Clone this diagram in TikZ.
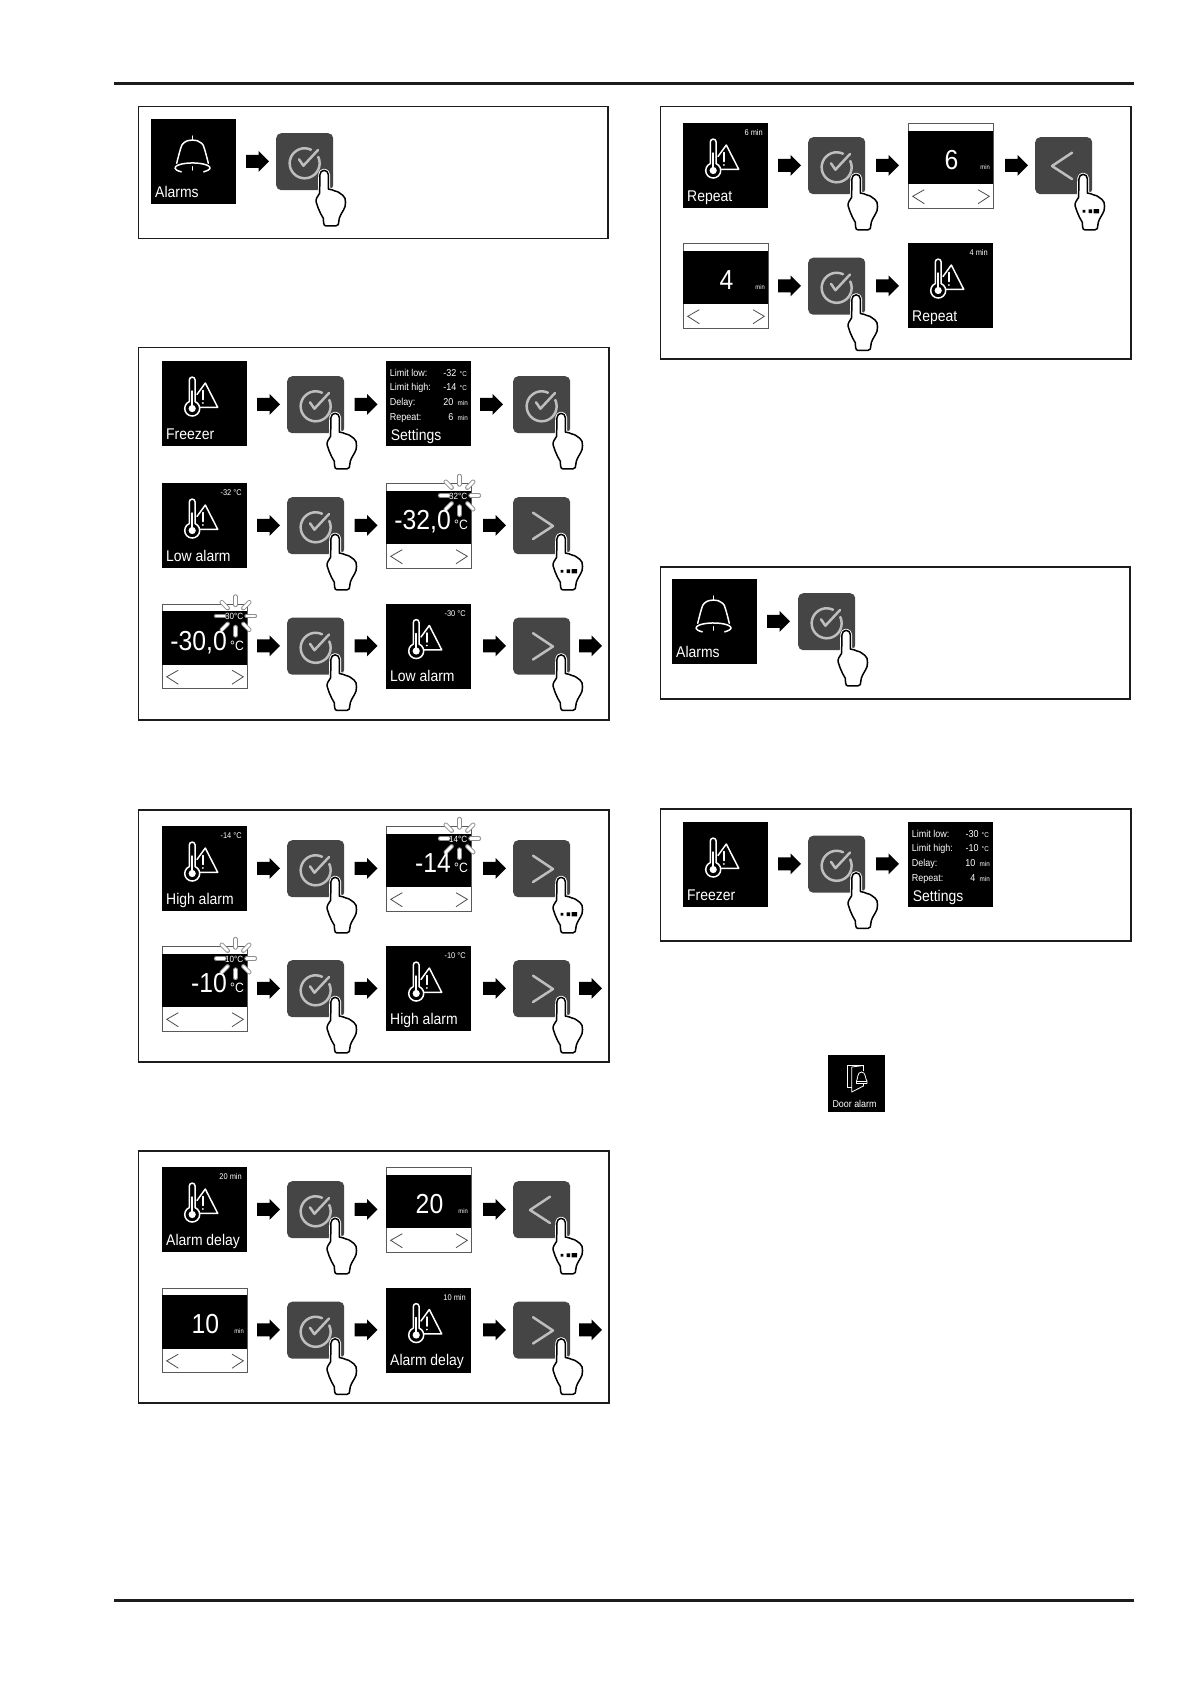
\documentclass[tikz,border=0pt]{standalone}
\usepackage{fontspec}
\setmainfont[FakeStretch=0.9]{Liberation Sans}
\usetikzlibrary{calc}
\definecolor{btngrey}{HTML}{454545}
\definecolor{chev}{HTML}{BEBEBE}
\definecolor{framec}{HTML}{1C1C1C}
\tikzset{
  scrbox/.style={fill=black,minimum size=85pt,inner sep=0pt,anchor=north west,draw=none},
  btnbox/.style={fill=btngrey,rounded corners=5pt,minimum size=57pt,inner sep=0pt,anchor=north west,draw=none},
  framebox/.style={draw=framec,line width=1.8pt,fill=none},
  rulel/.style={draw=framec,line width=3pt},
  icon/.style={draw=white,line width=1.5pt,line cap=round,line join=round},
  thinicon/.style={draw=white,line width=.8pt,line join=round},
  glyph/.style={draw=chev,line width=2.5pt,line cap=round,line join=round},
  hairl/.style={draw=black!70,line width=.8pt},
  lab/.style={text=white,inner sep=0pt,anchor=base west,font=\fontsize{15.5}{16}\selectfont},
  small/.style={text=white,inner sep=0pt,anchor=base east,font=\fontsize{8.3}{9}\selectfont},
  setl/.style={text=white,inner sep=0pt,anchor=base west,font=\fontsize{10}{10}\selectfont},
  setv/.style={text=white,inner sep=0pt,anchor=base east,font=\fontsize{10}{10}\selectfont},
  setu/.style={text=white,inner sep=0pt,anchor=base east,font=\fontsize{7}{7}\selectfont},
  bigv/.style={text=white,inner sep=0pt,font=\fontsize{27.5}{28}\selectfont},
}
% block arrow: x, y centre
\newcommand{\blockarrow}[2]{\fill[black] (#1,#2-7.2)--(#1+12.5,#2-7.2)--(#1+12.5,#2-11.2)--(#1+23,#2-.7)--(#1+12.5,#2+9.8)--(#1+12.5,#2+5.8)--(#1,#2+5.8)--cycle;}
% hand relative to button
\newcommand{\handpath}{(44,41.5) arc[start angle=180,end angle=0,radius=4.15pt] -- (52.3,56) .. controls (55,56.5) and (57,57) .. (59,58) .. controls (61,58.3) and (62.5,59) .. (64,60.3) .. controls (66,61.5) and (68,63) .. (69,65.3) .. controls (69.7,68) and (69.7,71) .. (69,73.7) .. controls (67.5,78) and (64.5,81) .. (63.3,85.3) -- (62.3,91.5) .. controls (62,92.7) and (61,92.9) .. (60,92.9) -- (50,92.9) .. controls (48.5,92.9) and (48,92) .. (47.6,90) -- (47.3,85.3) .. controls (45.5,82) and (43.5,79) .. (42.3,75.3) -- (40,68.5) .. controls (39.7,66.5) and (41.5,63) .. (43.6,60.3) -- cycle}
\newcommand{\hand}{\draw[white,fill=white,line width=3.4pt,line join=round] \handpath;\draw[black,line width=1.5pt,line join=round] \handpath;}
\newcommand{\movedots}{\fill[black] (47.5,72.8) rectangle (50.3,75.6) (53.5,72.4) rectangle (57,76) (58.5,72) rectangle (64,76.3);}
% buttons: name x y
\newcommand{\btnbase}[3]{\node[btnbox] (#1) at (#2,#3) {};}
\newcommand{\btncheck}[3]{\btnbase{#1}{#2}{#3}\begin{scope}[shift={(#2,#3)}]
 \draw[glyph] (35,16.7) arc[start angle=65,end angle=385,radius=15pt];
 \draw[glyph] (23,26.3)--(27.4,32.7)--(42,17);
 \hand\end{scope}}
\newcommand{\btnright}[3]{\btnbase{#1}{#2}{#3}\begin{scope}[shift={(#2,#3)}]
 \draw[glyph] (20,15.7)--(40,29)--(20,42);
 \hand\end{scope}}
\newcommand{\btnrightm}[3]{\btnbase{#1}{#2}{#3}\begin{scope}[shift={(#2,#3)}]
 \draw[glyph] (20,15.7)--(40,29)--(20,42);
 \hand\movedots\end{scope}}
\newcommand{\btnleftm}[3]{\btnbase{#1}{#2}{#3}\begin{scope}[shift={(#2,#3)}]
 \draw[glyph] (37,15.7)--(17,29)--(37,42);
 \hand\movedots\end{scope}}
% icons
\newcommand{\thermo}{%
 \draw[icon] (33.1,40.6) arc[start angle=67.3,end angle=-247.3,radius=7.5pt] -- (27.3,19) arc[start angle=180,end angle=0,radius=2.9pt] -- cycle;
 \fill[white] (30.2,47.5) circle (3.6pt);
 \draw[icon] (30.2,46)--(30.2,30);
 \draw[icon] (35,33.5)--(43.3,22)--(55.7,46.3)--(38.2,46.3);
 \draw[icon] (40.8,29.5)--(40.8,38.5);
 \fill[white] (40.8,42) circle (1pt);}
\newcommand{\bellicon}{%
 \draw[icon] (41.4,17)--(41.4,21);
 \draw[icon] (25.7,44.3) .. controls (27,39) and (28.5,33) .. (29.7,29.3) .. controls (30.5,26.5) and (31,25.5) .. (32.3,24.3) .. controls (35,21.8) and (38,21) .. (41.4,21) .. controls (45,21) and (48,21.8) .. (50.7,24.3) .. controls (52,25.5) and (52.5,26.5) .. (53.3,29.3) .. controls (54.5,33) and (56,39) .. (57.3,44.3);
 \draw[icon] (30.25,52.8) arc[start angle=230,end angle=-50,x radius=17.5pt,y radius=5pt];
 \draw[icon] (41.4,47.7)--(41.4,51);}
% screens: name x y label topright
\newcommand{\thscreen}[5]{\node[scrbox] (#1) at (#2,#3) {};\begin{scope}[shift={(#2,#3)}]\thermo
 \node[lab] (#1-l) at (4,78) {#4};\node[small] (#1-t) at (80,12.5) {#5};\end{scope}}
\newcommand{\bellscreen}[4]{\node[scrbox] (#1) at (#2,#3) {};\begin{scope}[shift={(#2,#3)}]\bellicon
 \node[lab] (#1-l) at (4,78) {#4};\end{scope}}
% settings screen: name x y low high delay repeat
\newcommand{\setscreen}[7]{\node[scrbox] (#1) at (#2,#3) {};\begin{scope}[shift={(#2,#3)}]
 \node[setl] (#1-a) at (3.7,15) {Limit low:};
 \node[setl] (#1-b) at (3.7,29.7) {Limit high:};
 \node[setl] (#1-c) at (3.7,44.7) {Delay:};
 \node[setl] (#1-d) at (3.7,59) {Repeat:};
 \node[setv] (#1-e) at (70.7,15) {#4};\node[setu] (#1-f) at (81,15) {°C};
 \node[setv] (#1-g) at (70.7,29.7) {#5};\node[setu] (#1-h) at (81,29.7) {°C};
 \node[setv] (#1-i) at (67.5,44.7) {#6};\node[setu] (#1-j) at (82,44.7) {min};
 \node[setv] (#1-k) at (67.5,59) {#7};\node[setu] (#1-m) at (82,59) {min};
 \node[lab] (#1-l) at (4.7,79) {Settings};\end{scope}}
% value screen frame
\newcommand{\valframe}[3]{\node[draw=black!65,line width=.8pt,fill=white,minimum size=84.2pt,inner sep=0pt,anchor=north west] (#1) at (#2+.4,#3+.4) {};\begin{scope}[shift={(#2,#3)}]
 \fill[black] (0,7.6) rectangle (85,61);
 \draw[hairl] (16.3,66.7)--(4.7,73.3)--(16.3,80.7);
 \draw[hairl] (70,66.7)--(81.3,73.3)--(70,80.7);\end{scope}}
\newcommand{\burst}{\foreach \a in {0,45,...,315}{%
  \draw[black!45,line width=4.4pt,line cap=round] ($(73.5,12.5)+(\a:11pt)$)--($(73.5,12.5)+(\a:19.5pt)$);
  \draw[white,line width=2.8pt,line cap=round] ($(73.5,12.5)+(\a:11pt)$)--($(73.5,12.5)+(\a:19.5pt)$);}}
% temperature value: name x y big small
\newcommand{\tempscreen}[5]{\valframe{#1}{#2}{#3}\begin{scope}[shift={(#2,#3)}]
 \burst
 \node[small,font=\fontsize{9}{9}\selectfont] (#1-s) at (81.5,16.3) {#5};
 \node[bigv,anchor=base east] (#1-v) at (65,46.5) {#4};
 \node[text=white,inner sep=0pt,anchor=base west,font=\fontsize{13.5}{14}\selectfont] (#1-u) at (68,46.5) {°C};
 \end{scope}}
% minutes value: name x y big
\newcommand{\minscreen}[4]{\valframe{#1}{#2}{#3}\begin{scope}[shift={(#2,#3)}]
 \node[bigv,anchor=base] (#1-v) at (43.5,46) {#4};
 \node[setu,font=\fontsize{6.5}{7}\selectfont] (#1-u) at (82,46) {min};\end{scope}}
\begin{document}
\begin{tikzpicture}[x=1pt,y=-1pt]
\path[use as bounding box,fill=white] (0,0) rectangle (1191,1684);
% rules
\coordinate (ruleTa) at (114,83);\coordinate (ruleTb) at (1134,83);
\coordinate (ruleBa) at (114,1600);\coordinate (ruleBb) at (1134,1600);
\draw[rulel] (ruleTa)--(ruleTb);\draw[rulel] (ruleBa)--(ruleBb);
% frames
\draw[framebox] (138.5,106.5) rectangle (608,238.5);
\draw[framebox] (138.5,347.5) rectangle (609,720);
\draw[framebox] (138.5,810) rectangle (609,1062);
\draw[framebox] (138.5,1151) rectangle (609,1403);
\draw[framebox] (660.5,106.5) rectangle (1131,359);
\draw[framebox] (660.5,567) rectangle (1130,699);
\draw[framebox] (660.5,809) rectangle (1131,941);
% box 1
\bellscreen{a1}{151}{119}{Alarms}
\blockarrow{246}{162}
\btncheck{a2}{276}{133}
% box 2 row 1
\thscreen{b1}{162}{361}{Freezer}{}
\blockarrow{257}{405}
\btncheck{b2}{287}{376}
\blockarrow{354.5}{405}
\setscreen{b3}{386}{361}{-32}{-14}{20}{6}
\blockarrow{480}{405}
\btncheck{b4}{513}{376}
% row 2
\thscreen{c1}{162}{483}{Low alarm}{-32 °C}
\blockarrow{257}{526}
\btncheck{c2}{287}{497}
\blockarrow{354.5}{526}
\tempscreen{c3}{386}{483}{-32,0}{-32°C}
\blockarrow{483}{526}
\btnrightm{c4}{513}{497}
% row 3
\tempscreen{d1}{162}{603.5}{-30,0}{-30°C}
\blockarrow{257}{646.5}
\btncheck{d2}{287}{617.5}
\blockarrow{354.5}{646.5}
\thscreen{d3}{386}{603.5}{Low alarm}{-30 °C}
\blockarrow{483}{646.5}
\btnright{d4}{513}{617.5}
\blockarrow{579}{646.5}
% box 3
\thscreen{e1}{162}{826}{High alarm}{-14 °C}
\blockarrow{257}{869}
\btncheck{e2}{287}{840}
\blockarrow{354.5}{869}
\tempscreen{e3}{386}{826}{-14}{-14°C}
\blockarrow{483}{869}
\btnrightm{e4}{513}{840}
\tempscreen{f1}{162}{946}{-10}{-10°C}
\blockarrow{257}{989}
\btncheck{f2}{287}{960}
\blockarrow{354.5}{989}
\thscreen{f3}{386}{946}{High alarm}{-10 °C}
\blockarrow{483}{989}
\btnright{f4}{513}{960}
\blockarrow{579}{989}
% box 4
\thscreen{g1}{162}{1167}{Alarm delay}{20 min}
\blockarrow{257}{1210}
\btncheck{g2}{287}{1181}
\blockarrow{354.5}{1210}
\minscreen{g3}{386}{1167}{20}
\blockarrow{483}{1210}
\btnleftm{g4}{513}{1181}
\minscreen{h1}{162}{1287.5}{10}
\blockarrow{257}{1330.5}
\btncheck{h2}{287}{1301.5}
\blockarrow{354.5}{1330.5}
\thscreen{h3}{386}{1287.5}{Alarm delay}{10 min}
\blockarrow{483}{1330.5}
\btnright{h4}{513}{1301.5}
\blockarrow{579}{1330.5}
% right box 1
\thscreen{i1}{683}{123}{Repeat}{6 min}
\blockarrow{778}{166}
\btncheck{i2}{808}{137}
\blockarrow{876}{166}
\minscreen{i3}{908}{123}{6}
\blockarrow{1005}{166}
\btnleftm{i4}{1035}{137}
\minscreen{j1}{683}{243}{4}
\blockarrow{778}{286.5}
\btncheck{j2}{808}{257.5}
\blockarrow{876}{286.5}
\thscreen{j3}{908}{243}{Repeat}{4 min}
% right box 2
\bellscreen{k1}{672}{579}{Alarms}
\blockarrow{767}{622}
\btncheck{k2}{798}{593}
% right box 3
\thscreen{m1}{683}{822}{Freezer}{}
\blockarrow{778}{864.5}
\btncheck{m2}{808}{835.5}
\blockarrow{876}{864.5}
\setscreen{m3}{908}{822}{-30}{-10}{10}{4}
% door alarm
\node[fill=black,minimum size=57pt,inner sep=0pt,anchor=north west] (n1) at (828,1055) {};
\begin{scope}[shift={(828,1055)}]
 \draw[thinicon] (35,10)--(19.3,10)--(19.3,32)--(23.7,32);
 \draw[thinicon] (23.7,12)--(35.5,10.5)--(35.5,16);
 \draw[thinicon] (23.7,12)--(23.7,37)--(35.5,31)--(35.5,28);
 \draw[thinicon,fill=black] (28.5,26) .. controls (30,24) and (29,17) .. (33.5,17) .. controls (38,17) and (37,24) .. (39,26) -- (39,28.5) -- (28.5,28.5) -- cycle;
 \draw[thinicon] (28.5,26)--(39,26);
 \node[text=white,inner sep=0pt,anchor=base west,font=\fontsize{9.9}{10}\selectfont] (n1-l) at (4.3,52.7) {Door alarm};
\end{scope}
\end{tikzpicture}
\end{document}
